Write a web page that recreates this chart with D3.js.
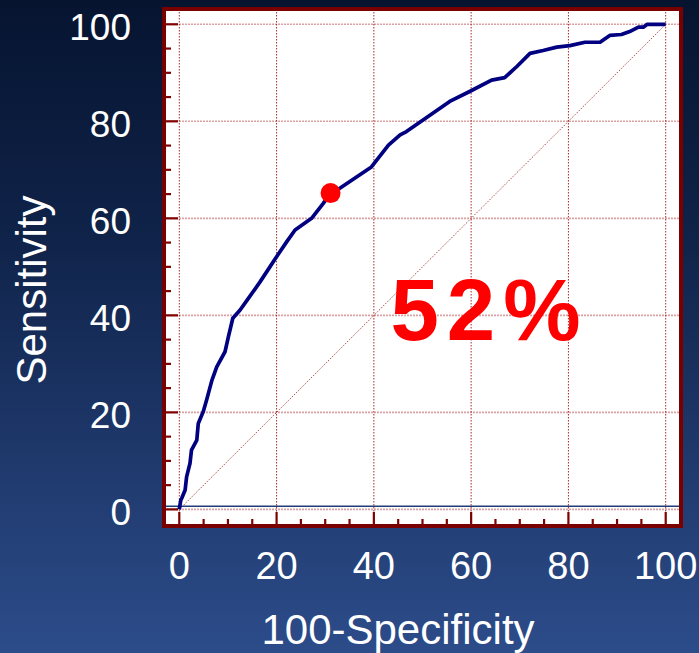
<!DOCTYPE html>
<html>
<head>
<meta charset="utf-8">
<script src="https://cdn.jsdelivr.net/npm/d3@7"></script>
<style>
  html, body { margin: 0; padding: 0; background: #0b1a38; }
  svg { display: block; }
  text { font-family: "Liberation Sans", Arial, sans-serif; }
</style>
</head>
<body>
<svg id="chart" width="699" height="653"></svg>
<script>
// ---- data ----
const rocX = [0, 0.3, 0.5, 1.2, 1.5, 2.2, 2.5, 3.6, 3.9, 4.9, 5.6, 6.7, 7.7, 9.4, 10.1, 11.0, 12.5, 14.2, 16.6, 20.0, 22.1, 23.8, 27.2, 29.6, 31.1, 33.0, 39.5, 43.0, 45.4, 46.7, 55.6, 59.8, 64.2, 66.9, 69.4, 72.1, 74.8, 77.6, 80.3, 83.4, 86.5, 88.5, 90.9, 92.6, 94.4, 95.4, 96.2, 100];
const rocY = [0, 1.9, 2.3, 4.0, 6.7, 9.5, 12.2, 14.3, 17.7, 20.1, 22.5, 26.6, 29.4, 32.5, 35.6, 39.4, 41.1, 43.5, 46.9, 52.1, 55.2, 57.6, 60.0, 63.1, 65.2, 66.2, 70.6, 75.1, 77.2, 77.9, 84.1, 86.2, 88.5, 89.0, 91.3, 94.0, 94.6, 95.3, 95.6, 96.3, 96.3, 97.7, 97.9, 98.5, 99.4, 99.4, 100, 100];
const cutPoint = [31.1, 65.2];
const baseLineY = 0.64;
const xTickLabels = [0, 20, 40, 60, 80, 100];
const yTickLabels = [0, 20, 40, 60, 80, 100];
const minorStep = 5;
const aucLabel = "52%";
const aucPos = [43, 35];
const xTitle = "100-Specificity";
const yTitle = "Sensitivity";

// ---- drawing ----
const svg = d3.select("#chart");
const W = 699, H = 653;

const defs = svg.append("defs");
const grad = defs.append("linearGradient").attr("id", "bg")
  .attr("x1", 0).attr("y1", 0).attr("x2", 0).attr("y2", 1);
grad.append("stop").attr("offset", "0%").attr("stop-color", "#061430");
grad.append("stop").attr("offset", "35%").attr("stop-color", "#0f2248");
grad.append("stop").attr("offset", "100%").attr("stop-color", "#2c4c8a");
svg.append("rect").attr("width", W).attr("height", H).attr("fill", "url(#bg)");

const x = d3.scaleLinear().domain([0, 100]).range([179.3, 665.7]);
const y = d3.scaleLinear().domain([0, 100]).range([509.4, 24.3]);

const box = { x0: 164, y0: 9, x1: 681, y1: 526 };

// plot background
svg.append("rect")
  .attr("x", box.x0).attr("y", box.y0)
  .attr("width", box.x1 - box.x0).attr("height", box.y1 - box.y0)
  .attr("fill", "#ffffff");

const g = svg.append("g");

// horizontal gridlines
g.selectAll("line.hg").data(yTickLabels).join("line")
  .attr("class", "hg")
  .attr("x1", box.x0).attr("x2", box.x1)
  .attr("y1", d => y(d)).attr("y2", d => y(d))
  .attr("stroke", "#c97a7a").attr("stroke-width", 1.6)
  .attr("stroke-dasharray", "2,1").attr("opacity", 0.7);

// vertical gridlines
g.selectAll("line.vg").data(xTickLabels).join("line")
  .attr("class", "vg")
  .attr("x1", d => x(d)).attr("x2", d => x(d))
  .attr("y1", box.y0).attr("y2", box.y1)
  .attr("stroke", "#a52a2a").attr("stroke-width", 1)
  .attr("stroke-dasharray", "1.5,1.5");

// diagonal reference
g.append("line")
  .attr("x1", x(0)).attr("y1", y(0)).attr("x2", x(100)).attr("y2", y(100))
  .attr("stroke", "#b04848").attr("stroke-width", 1)
  .attr("stroke-dasharray", "1.5,1.5");

// blue baseline
g.append("line")
  .attr("x1", box.x0).attr("x2", box.x1)
  .attr("y1", y(baseLineY)).attr("y2", y(baseLineY))
  .attr("stroke", "#1f3c78").attr("stroke-width", 1.5);

// ticks
const minor = d3.range(0, 100 + 0.001, minorStep);
g.selectAll("line.yt").data(minor).join("line")
  .attr("x1", box.x0).attr("x2", d => box.x0 + (d % 20 === 0 ? 14 : 7))
  .attr("y1", d => y(d)).attr("y2", d => y(d))
  .attr("stroke", "#800000").attr("stroke-width", 2.2);
g.selectAll("line.xt").data(minor).join("line")
  .attr("y1", box.y1).attr("y2", d => box.y1 - (d % 20 === 0 ? 14 : 7))
  .attr("x1", d => x(d)).attr("x2", d => x(d))
  .attr("stroke", "#800000").attr("stroke-width", 2.2);

// ROC curve
const pts = rocX.map((d, i) => [d, rocY[i]]);
g.append("path")
  .datum(pts)
  .attr("d", d3.line().x(d => x(d[0])).y(d => y(d[1])))
  .attr("fill", "none").attr("stroke", "#000080")
  .attr("stroke-width", 3.7).attr("stroke-linejoin", "round");

// cut-off point
g.append("circle")
  .attr("cx", x(cutPoint[0])).attr("cy", y(cutPoint[1]))
  .attr("r", 10).attr("fill", "#ff0000");

// AUC label
g.append("text")
  .attr("x", x(aucPos[0]) + 2).attr("y", y(aucPos[1]))
  .attr("font-size", 87).attr("font-weight", "bold")
  .attr("letter-spacing", 8)
  .attr("fill", "#ff0000")
  .text(aucLabel);

// border
svg.append("rect")
  .attr("x", box.x0).attr("y", box.y0)
  .attr("width", box.x1 - box.x0).attr("height", box.y1 - box.y0)
  .attr("fill", "none").attr("stroke", "#7a0000").attr("stroke-width", 4);

// tick labels
svg.append("g").selectAll("text").data(yTickLabels).join("text")
  .attr("x", 131).attr("y", d => y(d) + 16)
  .attr("text-anchor", "end")
  .attr("font-size", 37).attr("fill", "#ffffff")
  .text(d => d);

svg.append("g").selectAll("text").data(xTickLabels).join("text")
  .attr("x", d => x(d)).attr("y", 579)
  .attr("text-anchor", "middle")
  .attr("font-size", 38).attr("fill", "#ffffff")
  .text(d => d);

// axis titles
svg.append("text")
  .attr("x", 398).attr("y", 644)
  .attr("text-anchor", "middle")
  .attr("font-size", 42).attr("fill", "#ffffff")
  .text(xTitle);

svg.append("text")
  .attr("transform", "translate(46,290) rotate(-90)")
  .attr("text-anchor", "middle")
  .attr("font-size", 42).attr("fill", "#ffffff")
  .text(yTitle);
</script>
</body>
</html>
